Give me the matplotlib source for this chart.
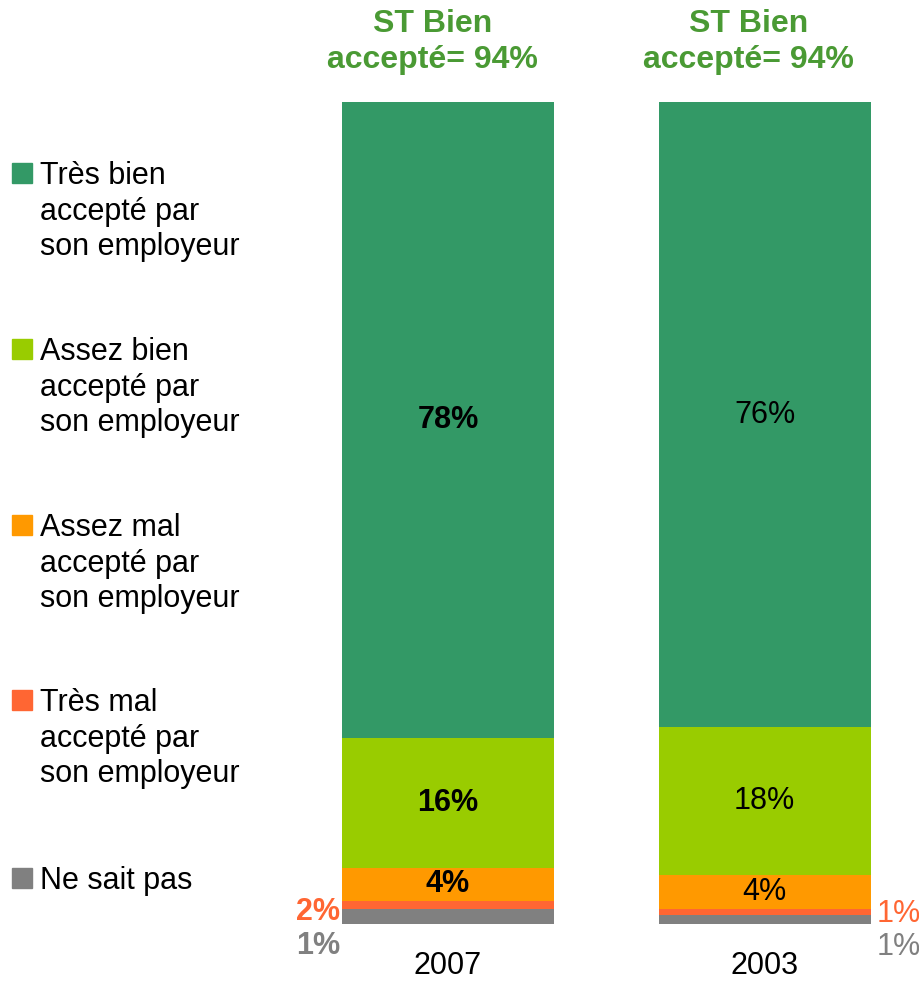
import matplotlib
matplotlib.use("Agg")
import matplotlib.pyplot as plt
from matplotlib.patches import Rectangle

plt.rcParams['font.family'] = ['Liberation Sans', 'DejaVu Sans']

years = ["2007", "2003"]
categories = ["Ne sait pas",
              "Très mal\naccepté par\nson employeur",
              "Assez mal\naccepté par\nson employeur",
              "Assez bien\naccepté par\nson employeur",
              "Très bien\naccepté par\nson employeur"]
# segment heights (bottom to top)
values_2007 = [1.8, 1.0, 4.0, 15.8, 77.4]
values_2003 = [1.0, 0.8, 4.1, 18.0, 76.1]
# labels as printed
labels_2007 = ["1%", "2%", "4%", "16%", "78%"]
labels_2003 = ["1%", "1%", "4%", "18%", "76%"]
totals = ["ST Bien\naccepté= 94%", "ST Bien\naccepté= 94%"]

colors = ["#808080", "#FF6633", "#FF9900", "#99CC00", "#339966"]
title_color = "#4A9A34"

FS = 22
W, H = 920, 982
fig = plt.figure(figsize=(W / 100, H / 100), dpi=100)
ax = fig.add_axes([290 / W, 1 - 923.7 / H, 630 / W, (923.7 - 102) / H])
ax.set_xlim(-0.499, 1.491)
ax.set_ylim(0, 100)
for s in ax.spines.values():
    s.set_visible(False)
ax.set_yticks([])
ax.set_xticks([0, 1])
ax.set_xticklabels(years, fontsize=22)
ax.tick_params(axis='x', length=0, pad=20)

series = [values_2007, values_2003]
labs = [labels_2007, labels_2003]
weights = ["bold", "normal"]
bw = 0.67
for i, (vals, lb) in enumerate(zip(series, labs)):
    bottom = 0
    for j, v in enumerate(vals):
        ax.bar(i, v, bottom=bottom, width=bw, color=colors[j], edgecolor='none')
        if j >= 2:
            ax.text(i, bottom + v / 2, lb[j], ha='center', va='center',
                    fontsize=FS, fontweight=weights[i], color='black')
        bottom += v
    ax.text(i - 0.05, 107.3, totals[i], ha='center', va='center', fontsize=23,
            fontweight='bold', color=title_color, linespacing=1.3, clip_on=False)

# small outside labels
ax.text(-bw / 2 - 0.005, 1.46, labels_2007[1], ha='right', va='center', fontsize=FS,
        fontweight='bold', color=colors[1], clip_on=False)
ax.text(-bw / 2 - 0.005, -2.7, labels_2007[0], ha='right', va='center', fontsize=FS,
        fontweight='bold', color=colors[0], clip_on=False)
ax.text(1 + bw / 2 + 0.02, 1.24, labels_2003[1], ha='left', va='center', fontsize=FS,
        color=colors[1], clip_on=False)
ax.text(1 + bw / 2 + 0.02, -2.8, labels_2003[0], ha='left', va='center', fontsize=FS,
        color=colors[0], clip_on=False)

# manual legend (top to bottom)
leg_y = [173, 349, 525, 700, 878]
for k, y in enumerate(leg_y):
    idx = len(categories) - 1 - k
    fig.patches.append(Rectangle((12 / W, 1 - (y + 10) / H), 20 / W, 20 / H,
                                 transform=fig.transFigure, color=colors[idx]))
    fig.text(40 / W, 1 - (y - 12) / H, categories[idx], ha='left', va='top',
             fontsize=FS, linespacing=1.24)

fig.savefig("out.png", dpi=100)
